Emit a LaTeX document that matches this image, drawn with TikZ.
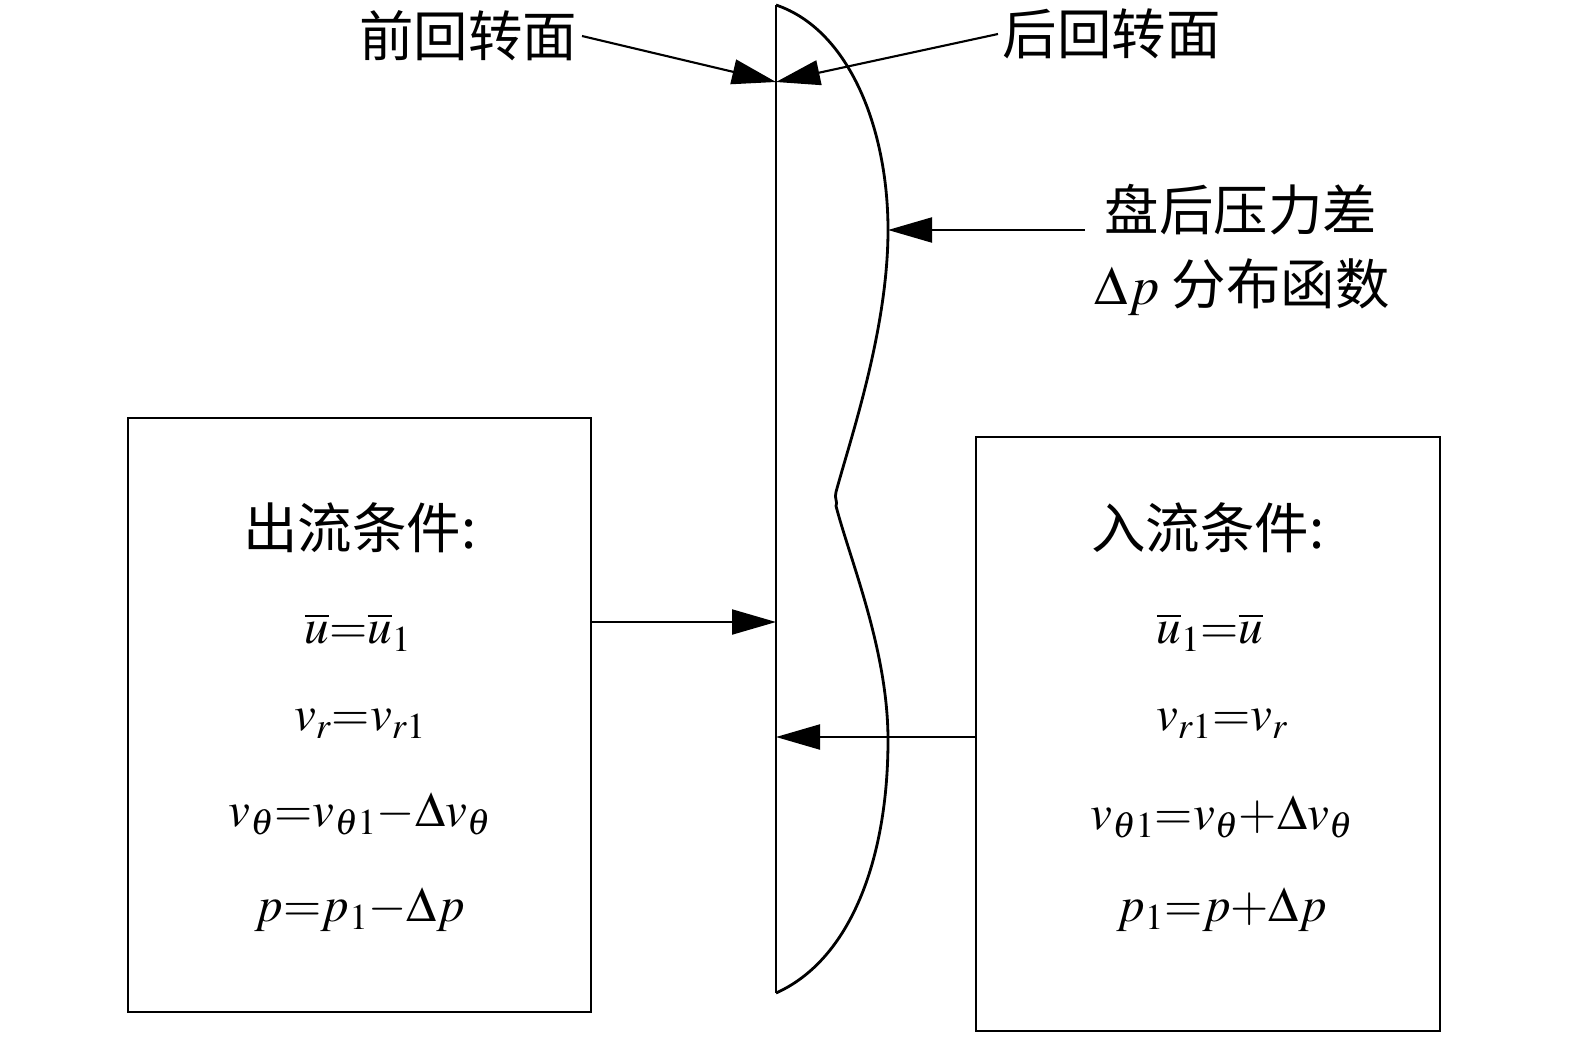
\documentclass[tikz,border=0pt]{standalone}
\usepackage{mathptmx}
\usepackage{fontspec}
\setmainfont{Liberation Serif}
\newfontfamily\cjk{Noto Sans CJK SC}
\usetikzlibrary{arrows.meta,positioning}

\tikzset{
  arr/.style={line width=1.2pt,-{Triangle[length=0.88cm,width=0.5cm]}},
  condbox/.style={draw,line width=1.3pt},
  lbl/.style={font=\cjk\fontsize{31}{36}\selectfont,inner sep=2pt},
  eqn/.style={font=\fontsize{28}{34}\selectfont}
}

\begin{document}
\begin{tikzpicture}[x=0.02cm,y=-0.02cm,line width=1.6pt]
  \useasboundingbox (0,0) rectangle (1575,1041);

  % disk and pressure curve
  \coordinate (dtop) at (776,5);
  \coordinate (dbot) at (776,993);
  \coordinate (hub) at (776,82);
  \coordinate (bulge) at (888,230);
  \draw (dtop) -- (dbot);
  \draw (dtop) .. controls (850,30) and (888,130) .. (bulge)
    .. controls (888,330) and (850,440) .. (836,492)
    .. controls (834,498) and (838,502) .. (836,506)
    .. controls (850,560) and (888,650) .. (888,740)
    .. controls (888,860) and (850,960) .. (dbot);

  % labels on top
  \node[lbl,anchor=east] (front) at (582,36) {前回转面};
  \node[lbl,anchor=west] (back) at (998,34) {后回转面};
  \draw[arr] (front.east) -- (hub);
  \draw[arr] (back.west) -- (hub);

  \node[lbl,anchor=west] (dp1) at (1100,210) {盘后压力差};
  \node[lbl,anchor=west] (dp2) at (1090,287) {$\Delta p$ 分布函数};
  \draw[arr] ([xshift=-0.3cm]dp1.west |- bulge) -- (bulge);

  % outflow box
  \node[condbox,minimum width=9.26cm,minimum height=11.88cm] (outbox) at (359.5,715) {};
  \node[lbl] (outt) at (360,528) {出流条件:};
  \node[eqn] (out1) at (358,632) {$\overline{u}{=}\overline{u}_1$};
  \node[eqn] (out2) at (360,724) {$v_r{=}v_{r1}$};
  \node[eqn] (out3) at (360,814) {$v_\theta{=}v_{\theta1}{-}\Delta v_\theta$};
  \node[eqn] (out4) at (360,910) {$p{=}p_1{-}\Delta p$};

  % inflow box
  \node[condbox,minimum width=9.28cm,minimum height=11.88cm] (inbox) at (1208,734) {};
  \node[lbl] (int) at (1208,528) {入流条件:};
  \node[eqn] (in1) at (1210,632) {$\overline{u}_1{=}\overline{u}$};
  \node[eqn] (in2) at (1222,724) {$v_{r1}{=}v_r$};
  \node[eqn] (in3) at (1222,817) {$v_{\theta1}{=}v_\theta{+}\Delta v_\theta$};
  \node[eqn] (in4) at (1222,910) {$p_1{=}p{+}\Delta p$};

  \coordinate (hitout) at (776,622);
  \coordinate (hitin) at (776,737);
  \draw[arr] (outbox.east |- hitout) -- (hitout);
  \draw[arr] (inbox.west |- hitin) -- (hitin);
\end{tikzpicture}
\end{document}
